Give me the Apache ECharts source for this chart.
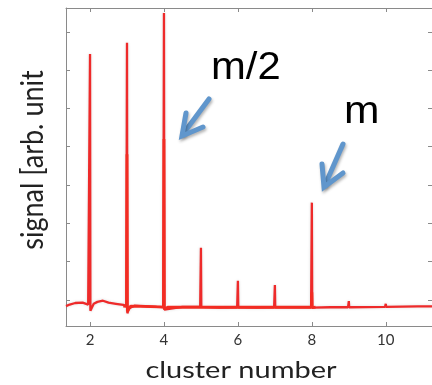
<!DOCTYPE html>
<html>
<head>
<meta charset="utf-8">
<script src="https://cdn.jsdelivr.net/npm/echarts@6/dist/echarts.min.js"></script>
<style>
  html, body { margin: 0; padding: 0; background: #fff; }
  #chart { width: 432px; height: 385px; }
</style>
</head>
<body>
<div id="chart"></div>
<script>
// cluster number vs signal (arb. unit)
const clusterX = [
  1.35, 1.45, 1.6, 1.8, 1.95, 1.99, 2.0, 2.01, 2.04, 2.1, 2.2, 2.35, 2.5, 2.7, 2.9, 2.98,
  3.0, 3.01, 3.05, 3.2, 3.5, 3.8, 3.98, 4.0, 4.01, 4.06, 4.5, 4.98, 5.0, 5.01, 5.5,
  5.98, 6.0, 6.01, 6.5, 6.98, 7.0, 7.01, 7.5, 7.98, 8.0, 8.01, 8.5, 8.98, 9.0, 9.01,
  9.98, 10.0, 10.01, 10.87, 10.88, 10.89, 11.25
];
const signal = [
  -0.16, -0.12, -0.08, -0.07, -0.12, -0.15, 6.42, -0.28, -0.25, -0.1, -0.05, -0.02, -0.07, -0.1, -0.13, -0.16,
  6.71, -0.35, -0.22, -0.15, -0.16, -0.18, -0.19, 7.49, -0.25, -0.2, -0.18, -0.18, 1.36, -0.18, -0.2,
  -0.19, 0.5, -0.19, -0.2, -0.19, 0.39, -0.19, -0.19, -0.19, 2.54, -0.2, -0.19, -0.19, -0.03, -0.19,
  -0.18, -0.1, -0.18, -0.17, -0.12, -0.17, -0.17
];
// brighter lower parts of the big peaks (second overlaid trace)
const overlayX = [2.9, 2.99, 3.0, 3.01, 3.1, 3.9, 3.99, 4.0, 4.01, 4.1, 7.9, 7.99, 8.0, 8.01, 8.1];
const overlayY = [-0.16, -0.17, 3.8, -0.3, -0.16, -0.18, -0.19, 4.2, -0.24, -0.19, -0.19, -0.19, 0.2, -0.2, -0.19];

const xTicks = [2, 4, 6, 8, 10];
const yTicks = [0, 1, 2, 3, 4, 5, 6, 7];

const lineRed = '#ee2a2a';
const frameGray = '#8a8a8a';
const arrowBlue = '#6096cc';

const chart = echarts.init(document.getElementById('chart'));

function pairs(xs, ys) {
  return xs.map((x, i) => [x, ys[i]]);
}

const tickStyle = { show: true, inside: true, length: 4, lineStyle: { color: frameGray, width: 1 } };
const frameLine = { show: true, onZero: false, lineStyle: { color: frameGray, width: 1 } };

chart.setOption({
  animation: false,
  grid: { left: 66, top: 8, right: -2, bottom: 59 },
  xAxis: [
    {
      type: 'value', min: 1.35, max: 11.25, position: 'bottom',
      axisLine: frameLine,
      axisTick: Object.assign({ customValues: xTicks }, tickStyle),
      axisLabel: { customValues: xTicks, margin: 7, color: '#333', fontSize: 15, fontFamily: 'Lato' },
      splitLine: { show: false }
    },
    {
      type: 'value', min: 1.35, max: 11.25, position: 'top',
      axisLine: frameLine,
      axisTick: Object.assign({ customValues: xTicks }, tickStyle),
      axisLabel: { show: false },
      splitLine: { show: false }
    }
  ],
  yAxis: [
    {
      type: 'value', min: -0.68, max: 7.62, position: 'left',
      axisLine: frameLine,
      axisTick: Object.assign({ customValues: yTicks }, tickStyle),
      axisLabel: { show: false },
      splitLine: { show: false }
    },
    {
      type: 'value', min: -0.68, max: 7.62, position: 'right',
      axisLine: frameLine,
      axisTick: Object.assign({ customValues: yTicks }, tickStyle),
      axisLabel: { show: false },
      splitLine: { show: false }
    }
  ],
  series: [
    {
      type: 'line', data: pairs(clusterX, signal), showSymbol: false, z: 3,
      lineStyle: { color: lineRed, width: 2.3, shadowColor: 'rgba(0,0,0,0.15)', shadowBlur: 3 }
    },
    {
      type: 'line', data: pairs(overlayX, overlayY), showSymbol: false, z: 4,
      lineStyle: { color: '#f22c22', width: 2.8 }
    }
  ],
  graphic: [
    {
      type: 'text', x: 241, y: 371, scaleX: 1.26,
      style: { text: 'cluster number', font: '23px Lato', fill: '#222', align: 'center', verticalAlign: 'middle' }
    },
    {
      type: 'text', x: 33, y: 160, rotation: Math.PI / 2, scaleY: 1.12,
      style: { text: 'signal [arb. unit', font: '27px Lato', fill: '#222', align: 'center', verticalAlign: 'middle' }
    },
    {
      type: 'text', x: 211, y: 88, scaleX: 1.1,
      style: { text: 'm/2', font: '38px "Liberation Sans"', fill: '#000', align: 'left', verticalAlign: 'bottom' }
    },
    {
      type: 'text', x: 344, y: 132, scaleX: 1.12,
      style: { text: 'm', font: '38px "Liberation Sans"', fill: '#000', align: 'left', verticalAlign: 'bottom' }
    },
    // arrows
    {
      type: 'polyline', z: 10,
      shape: { points: [[209, 99], [183, 134]] },
      style: { stroke: arrowBlue, lineWidth: 5, lineCap: 'round', shadowColor: 'rgba(0,0,0,0.3)', shadowBlur: 3, shadowOffsetX: 1, shadowOffsetY: 2 }
    },
    {
      type: 'polyline', z: 10,
      shape: { points: [[186, 113], [182, 136], [203, 127]] },
      style: { stroke: arrowBlue, lineWidth: 5, lineCap: 'round', lineJoin: 'miter', fill: null, shadowColor: 'rgba(0,0,0,0.3)', shadowBlur: 3, shadowOffsetX: 1, shadowOffsetY: 2 }
    },
    {
      type: 'polyline', z: 10,
      shape: { points: [[343, 144], [325, 185]] },
      style: { stroke: arrowBlue, lineWidth: 5, lineCap: 'round', shadowColor: 'rgba(0,0,0,0.3)', shadowBlur: 3, shadowOffsetX: 1, shadowOffsetY: 2 }
    },
    {
      type: 'polyline', z: 10,
      shape: { points: [[322, 164], [324, 187], [343, 173]] },
      style: { stroke: arrowBlue, lineWidth: 5, lineCap: 'round', lineJoin: 'miter', fill: null, shadowColor: 'rgba(0,0,0,0.3)', shadowBlur: 3, shadowOffsetX: 1, shadowOffsetY: 2 }
    }
  ]
});
</script>
</body>
</html>
